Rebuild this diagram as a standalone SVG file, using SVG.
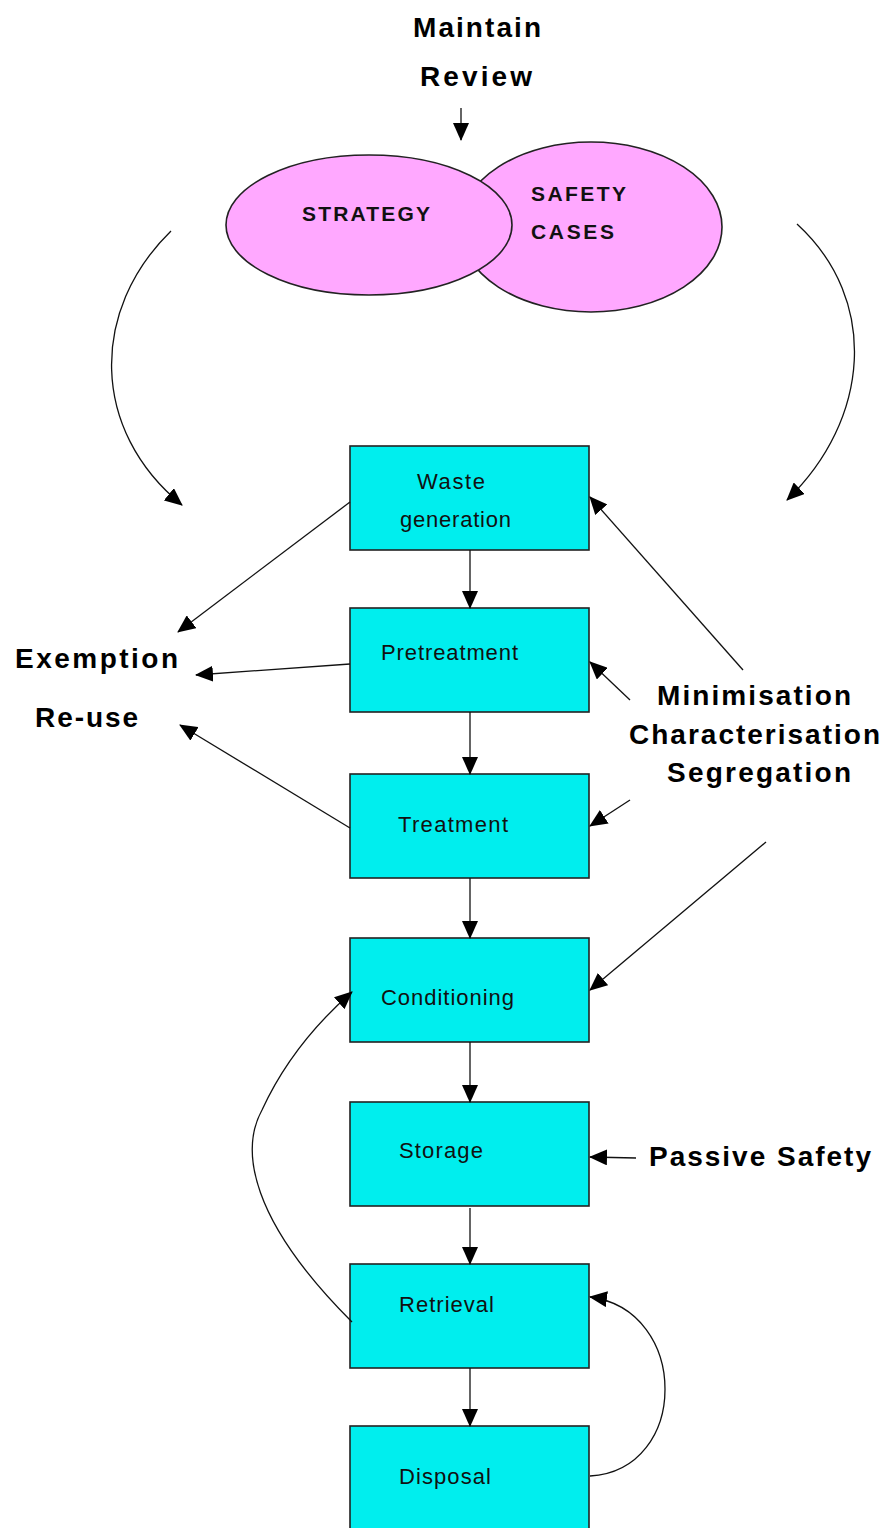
<svg xmlns="http://www.w3.org/2000/svg" width="887" height="1528" viewBox="0 0 887 1528">
<defs>
<style>
.box{fill:#00EEEE;stroke:#222;stroke-width:1.6}
.ell{fill:#FFA8FF;stroke:#222;stroke-width:1.6}
.bt{font-family:"Liberation Sans",Arial,sans-serif;font-size:22px;fill:#111}
.lb{font-family:"Liberation Sans",Arial,sans-serif;font-size:28px;font-weight:bold;fill:#000}
.et{font-family:"Liberation Sans",Arial,sans-serif;font-size:21px;font-weight:bold;fill:#111}
.c{fill:none;stroke:#111;stroke-width:1.3;marker-end:url(#ah)}
</style>
<marker id="ah" markerUnits="userSpaceOnUse" markerWidth="18" markerHeight="16" refX="17" refY="8" orient="auto">
<path d="M0,0 L18,8 L0,16 Z" fill="#000"/>
</marker>
</defs>
<g id="title">
<text class="lb" x="413" y="37" textLength="128">Maintain</text>
<text class="lb" x="420" y="86" textLength="112">Review</text>
</g>
<g id="safety-cases">
<ellipse class="ell" cx="591" cy="227" rx="131" ry="85"/>
<text class="et" x="531" y="201" textLength="95">SAFETY</text>
<text class="et" x="531" y="239" textLength="83">CASES</text>
</g>
<g id="strategy">
<ellipse class="ell" cx="369" cy="225" rx="143" ry="70"/>
<text class="et" x="302" y="221" textLength="128">STRATEGY</text>
</g>
<g id="waste-generation">
<rect class="box" x="350" y="446" width="239" height="104"/>
<text class="bt" x="417" y="489" textLength="68">Waste</text>
<text class="bt" x="400" y="527" textLength="111">generation</text>
</g>
<g id="pretreatment">
<rect class="box" x="350" y="608" width="239" height="104"/>
<text class="bt" x="381" y="660" textLength="137">Pretreatment</text>
</g>
<g id="treatment">
<rect class="box" x="350" y="774" width="239" height="104"/>
<text class="bt" x="398" y="832" textLength="110">Treatment</text>
</g>
<g id="conditioning">
<rect class="box" x="350" y="938" width="239" height="104"/>
<text class="bt" x="381" y="1005" textLength="133">Conditioning</text>
</g>
<g id="storage">
<rect class="box" x="350" y="1102" width="239" height="104"/>
<text class="bt" x="399" y="1158" textLength="84">Storage</text>
</g>
<g id="retrieval">
<rect class="box" x="350" y="1264" width="239" height="104"/>
<text class="bt" x="399" y="1312" textLength="95">Retrieval</text>
</g>
<g id="disposal">
<rect class="box" x="350" y="1426" width="239" height="110"/>
<text class="bt" x="399" y="1484" textLength="92">Disposal</text>
</g>
<g id="exemption">
<text class="lb" x="15" y="668" textLength="163">Exemption</text>
<text class="lb" x="35" y="727" textLength="103">Re-use</text>
</g>
<g id="minimisation">
<text class="lb" x="657" y="705" textLength="194">Minimisation</text>
<text class="lb" x="629" y="744" textLength="251">Characterisation</text>
<text class="lb" x="667" y="782" textLength="184">Segregation</text>
</g>
<g id="passive-safety">
<text class="lb" x="649" y="1166" textLength="222">Passive Safety</text>
</g>
<g id="connectors">
<path class="c" d="M461,108 L461,140"/>
<path class="c" d="M171,231 C90,310 90,430 182,505"/>
<path class="c" d="M797,224 C880,300 870,420 787,500"/>
<path class="c" d="M470,550 L470,608"/>
<path class="c" d="M470,712 L470,774"/>
<path class="c" d="M470,878 L470,938"/>
<path class="c" d="M470,1042 L470,1102"/>
<path class="c" d="M470,1208 L470,1264"/>
<path class="c" d="M470,1368 L470,1426"/>
<path class="c" d="M350,502 L178,632"/>
<path class="c" d="M350,664 L196,675"/>
<path class="c" d="M350,828 L180,725"/>
<path class="c" d="M743,670 L590,497"/>
<path class="c" d="M630,700 L590,662"/>
<path class="c" d="M630,800 L590,826"/>
<path class="c" d="M766,842 L590,990"/>
<path class="c" d="M636,1158 L590,1157"/>
<path class="c" d="M352,1322 C250,1220 240,1150 262,1110 C285,1060 320,1020 352,992"/>
<path class="c" d="M590,1476 C690,1470 690,1310 590,1297"/>
</g>
</svg>
